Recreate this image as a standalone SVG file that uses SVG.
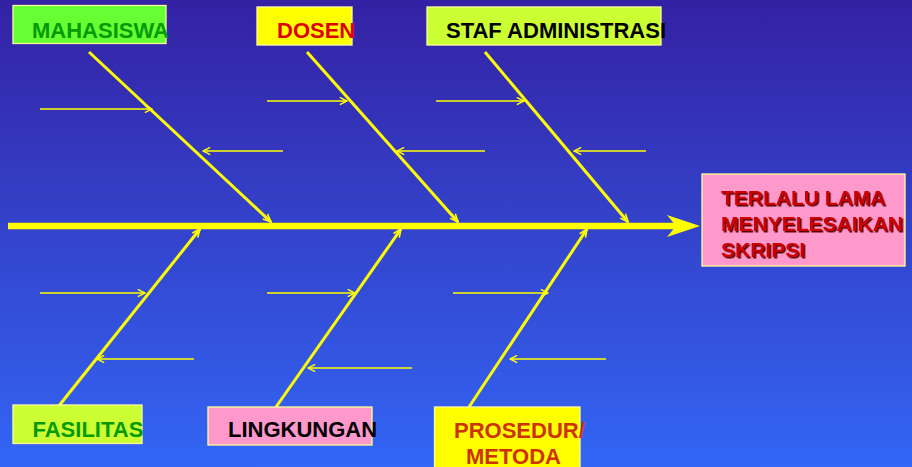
<svg xmlns="http://www.w3.org/2000/svg" width="912" height="467" viewBox="0 0 912 467">
<defs>
<linearGradient id="bg" x1="0" y1="0" x2="0" y2="1">
<stop offset="0" stop-color="#3421a3"/>
<stop offset="1" stop-color="#3366f5"/>
</linearGradient>
<marker id="ah" viewBox="0 0 10 10" refX="9" refY="5" markerWidth="9" markerHeight="9" markerUnits="userSpaceOnUse" orient="auto">
<path d="M1,1 L9,5 L1,9" fill="none" stroke="#ffff00" stroke-width="1.6"/>
</marker>
<marker id="ahb" viewBox="0 0 10 10" refX="9" refY="5" markerWidth="10" markerHeight="10" markerUnits="userSpaceOnUse" orient="auto">
<path d="M1,1.5 L9,5 L1,8.5" fill="none" stroke="#ffff00" stroke-width="1.6"/>
</marker>
<filter id="sh" x="-5%" y="-5%" width="110%" height="120%">
<feDropShadow dx="1.5" dy="1.5" stdDeviation="0" flood-color="#5a0000" flood-opacity="1"/>
</filter>
</defs>
<style>
.box{stroke:#ffff99;stroke-width:1.3}
.t{font-family:"Liberation Sans",Arial,sans-serif;font-weight:bold;font-size:22px}
.e{font-size:21px}
.bone{stroke:#ffff00;stroke-width:3;fill:none}
.sub{stroke:#ffff00;stroke-width:1.3;fill:none}
</style>
<rect x="0" y="0" width="912" height="467" fill="url(#bg)"/>

<g id="connectors">
<line x1="8" y1="226" x2="678" y2="226" stroke="#ffff00" stroke-width="6.5"/>
<polygon points="667,215 700,226 667,237 676,226" fill="#ffff00"/>
<line class="bone" x1="89" y1="52" x2="271" y2="222" marker-end="url(#ahb)"/>
<line class="bone" x1="307" y1="52" x2="458" y2="222" marker-end="url(#ahb)"/>
<line class="bone" x1="485" y1="52" x2="628" y2="222" marker-end="url(#ahb)"/>
<line class="bone" x1="58" y1="407" x2="200" y2="229" marker-end="url(#ahb)"/>
<line class="bone" x1="276" y1="407" x2="401" y2="229" marker-end="url(#ahb)"/>
<line class="bone" x1="469" y1="407" x2="587" y2="229" marker-end="url(#ahb)"/>
<line class="sub" x1="40" y1="109" x2="152" y2="109" marker-end="url(#ah)"/>
<line class="sub" x1="283" y1="151" x2="203" y2="151" marker-end="url(#ah)"/>
<line class="sub" x1="267" y1="101" x2="347" y2="101" marker-end="url(#ah)"/>
<line class="sub" x1="485" y1="151" x2="397" y2="151" marker-end="url(#ah)"/>
<line class="sub" x1="436" y1="101" x2="524" y2="101" marker-end="url(#ah)"/>
<line class="sub" x1="646" y1="151" x2="574" y2="151" marker-end="url(#ah)"/>
<line class="sub" x1="40" y1="293" x2="145" y2="293" marker-end="url(#ah)"/>
<line class="sub" x1="194" y1="359" x2="97" y2="359" marker-end="url(#ah)"/>
<line class="sub" x1="267" y1="293" x2="355" y2="293" marker-end="url(#ah)"/>
<line class="sub" x1="412" y1="368" x2="308" y2="368" marker-end="url(#ah)"/>
<line class="sub" x1="453" y1="293" x2="548" y2="293" marker-end="url(#ah)"/>
<line class="sub" x1="606" y1="359" x2="510" y2="359" marker-end="url(#ah)"/>
</g>

<g id="mahasiswa">
<rect class="box" x="13" y="5.5" width="153" height="38" fill="#66ff33"/>
<text class="t" x="32" y="37.5" fill="#079a07">MAHASISWA</text>
</g>
<g id="dosen">
<rect class="box" x="257" y="7" width="95" height="38" fill="#ffff00"/>
<text class="t" x="277" y="37.5" fill="#dd0000">DOSEN</text>
</g>
<g id="staf">
<rect class="box" x="427" y="7" width="234" height="38" fill="#ccff33"/>
<text class="t" x="446" y="37.5" fill="#000000">STAF ADMINISTRASI</text>
</g>
<g id="effect">
<rect class="box" x="702" y="174" width="203" height="92" fill="#ff99cc"/>
<g filter="url(#sh)">
<text class="t e" x="721" y="205" fill="#cc0000">TERLALU LAMA</text>
<text class="t e" x="721" y="231" fill="#cc0000">MENYELESAIKAN</text>
<text class="t e" x="721" y="257" fill="#cc0000">SKRIPSI</text>
</g>
</g>
<g id="fasilitas">
<rect class="box" x="13" y="405" width="129" height="38.5" fill="#ccff33"/>
<text class="t" x="32.5" y="437" fill="#079a07">FASILITAS</text>
</g>
<g id="lingkungan">
<rect class="box" x="208" y="407" width="164" height="38" fill="#ff99cc"/>
<text class="t" x="228" y="437" fill="#000000">LINGKUNGAN</text>
</g>
<g id="prosedur">
<rect class="box" x="434.5" y="407" width="145.5" height="70" fill="#ffff00"/>
<text class="t" x="454" y="437.5" fill="#cc3300">PROSEDUR/</text>
<text class="t" x="466" y="464" fill="#cc3300">METODA</text>
</g>
</svg>
